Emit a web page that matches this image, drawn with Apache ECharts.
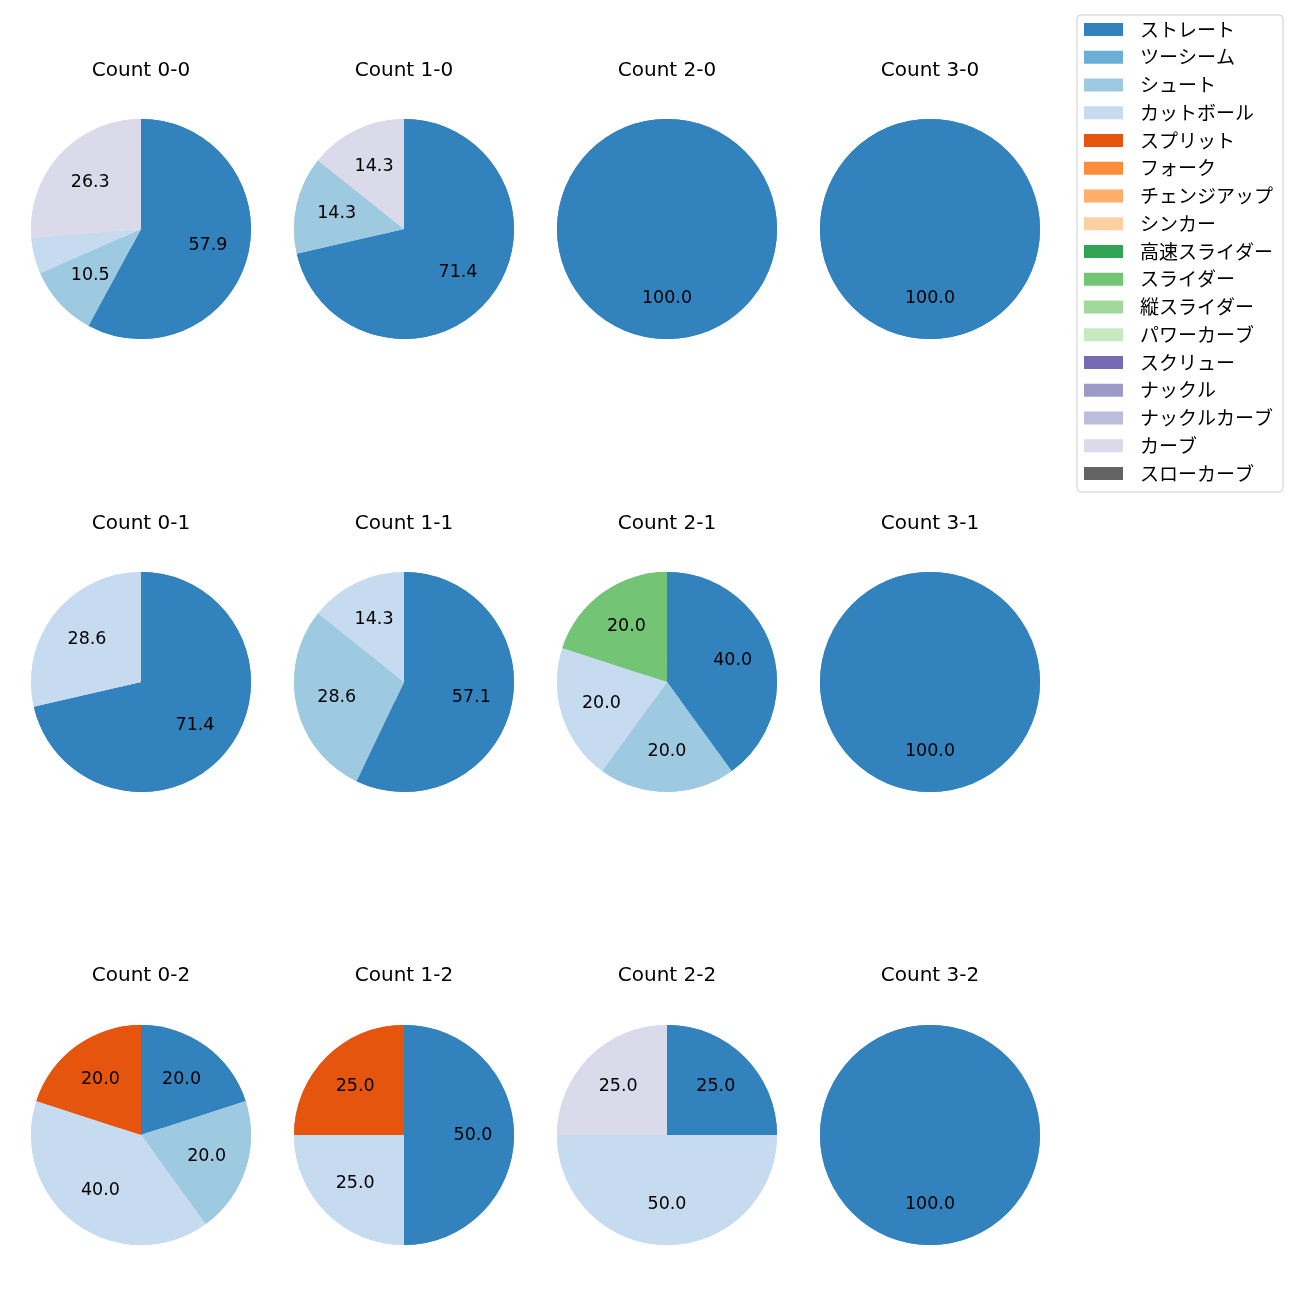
<!DOCTYPE html>
<html>
<head>
<meta charset="utf-8">
<script src="https://cdn.jsdelivr.net/npm/echarts@6/dist/echarts.min.js"></script>
<style>html,body{margin:0;padding:0;background:#fff}#c{width:1300px;height:1300px}</style>
</head>
<body>
<div id="c"></div>
<script>
const categories = ['ストレート','ツーシーム','シュート','カットボール','スプリット','フォーク','チェンジアップ','シンカー','高速スライダー','スライダー','縦スライダー','パワーカーブ','スクリュー','ナックル','ナックルカーブ','カーブ','スローカーブ'];
const colors = ['#3182bd','#6baed6','#9ecae1','#c6dbef','#e6550d','#fd8d3c','#fdae6b','#fdd0a2','#31a354','#74c476','#a1d99b','#c7e9c0','#756bb1','#9e9ac8','#bcbddc','#dadaeb','#636363'];
const titles = ['Count 0-0','Count 1-0','Count 2-0','Count 3-0','Count 0-1','Count 1-1','Count 2-1','Count 3-1','Count 0-2','Count 1-2','Count 2-2','Count 3-2'];
// percentages in category order
const count00 = [57.9,0,10.5,5.3,0,0,0,0,0,0,0,0,0,0,0,26.3,0];
const count10 = [71.4,0,14.3,0,0,0,0,0,0,0,0,0,0,0,0,14.3,0];
const count20 = [100,0,0,0,0,0,0,0,0,0,0,0,0,0,0,0,0];
const count30 = [100,0,0,0,0,0,0,0,0,0,0,0,0,0,0,0,0];
const count01 = [71.4,0,0,28.6,0,0,0,0,0,0,0,0,0,0,0,0,0];
const count11 = [57.1,0,28.6,14.3,0,0,0,0,0,0,0,0,0,0,0,0,0];
const count21 = [40,0,20,20,0,0,0,0,0,20,0,0,0,0,0,0,0];
const count31 = [100,0,0,0,0,0,0,0,0,0,0,0,0,0,0,0,0];
const count02 = [20,0,20,40,20,0,0,0,0,0,0,0,0,0,0,0,0];
const count12 = [50,0,0,25,25,0,0,0,0,0,0,0,0,0,0,0,0];
const count22 = [25,0,0,50,0,0,0,0,0,0,0,0,0,0,0,25,0];
const count32 = [100,0,0,0,0,0,0,0,0,0,0,0,0,0,0,0,0];
const pies = [count00,count10,count20,count30,count01,count11,count21,count31,count02,count12,count22,count32];

const colX = [141, 404, 667, 930];
const rowY = [229, 682, 1135];
const titleY = [69, 522, 974];
const R = 110;
const LATIN = '"DejaVu Sans", "Noto Sans CJK JP", sans-serif';
const CJK = '"Noto Sans CJK JP", "DejaVu Sans", sans-serif';

const series = [];
const title = [];
pies.forEach((vals, i) => {
  const col = i % 4, row = Math.floor(i / 4);
  const data = categories.map((n, k) => ({ name: n, value: vals[k], itemStyle: { color: colors[k] } }));
  title.push({
    text: titles[i], left: colX[col], top: titleY[row] - 8, textAlign: 'center', padding: 0,
    textStyle: { fontSize: 20, fontWeight: 'normal', color: '#000', fontFamily: LATIN }
  });
  series.push({
    type: 'pie', center: [colX[col], rowY[row]], radius: [0, R],
    startAngle: 90, clockwise: true, animation: false, silent: true,
    itemStyle: { borderWidth: 0 }, label: { show: false }, labelLine: { show: false },
    emphasis: { disabled: true }, data: data
  });
  series.push({
    type: 'pie', center: [colX[col], rowY[row]], radius: [R * 0.2, R],
    startAngle: 90, clockwise: true, animation: false, silent: true,
    itemStyle: { borderWidth: 0 },
    label: { show: true, position: 'inside', color: '#000', fontSize: 17.5, fontFamily: LATIN,
      formatter: p => p.value >= 8 ? p.value.toFixed(1) : '' },
    labelLine: { show: false },
    emphasis: { disabled: true }, data: data
  });
});

const chart = echarts.init(document.getElementById('c'), null, { renderer: 'canvas' });
chart.setOption({
  backgroundColor: '#fff',
  animation: false,
  title: title,
  legend: {
    orient: 'vertical', left: 1077, top: 15, data: categories,
    icon: 'rect', itemWidth: 39, itemHeight: 13, itemGap: 8.75,
    padding: [5, 10, 9, 7], borderColor: '#cccccc', borderWidth: 1, borderRadius: 4,
    selectedMode: false,
    textStyle: { fontSize: 19, color: '#000', fontFamily: CJK, lineHeight: 19, padding: [0, 0, 0, 12] }
  },
  series: series
});
</script>
</body>
</html>
